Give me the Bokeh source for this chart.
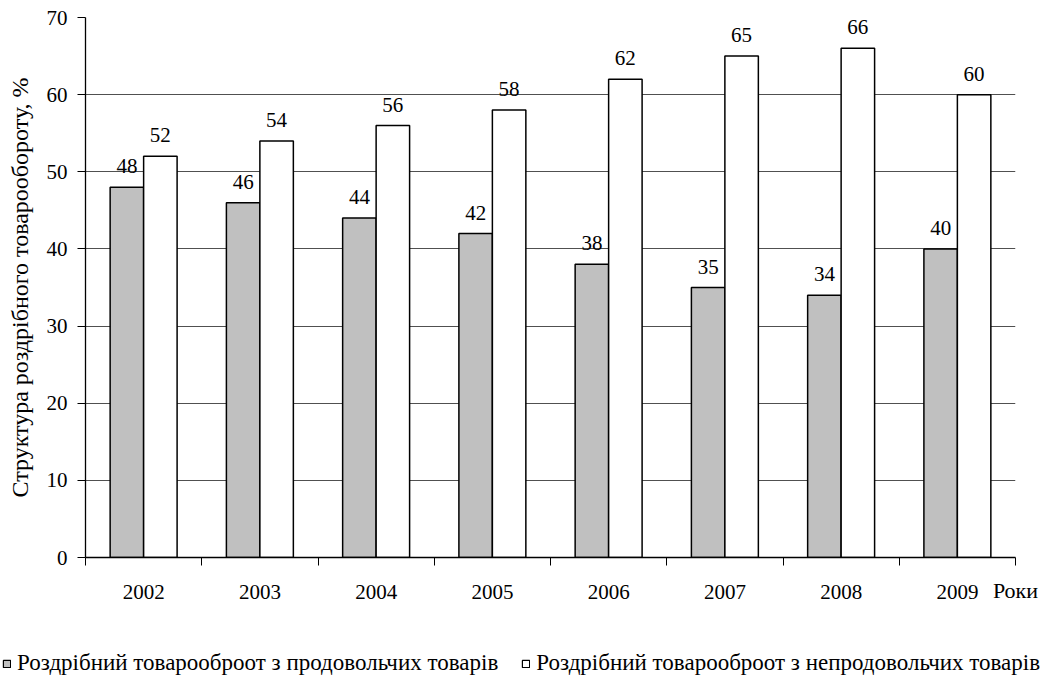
from bokeh.plotting import figure
from bokeh.models import (Range1d, LinearAxis, FixedTicker,
                          ColumnDataSource, Legend, LegendItem)
from bokeh.core.properties import value
from bokeh.embed import file_html
from bokeh.resources import INLINE

years = ["2002", "2003", "2004", "2005", "2006", "2007", "2008", "2009"]
food = [48, 46, 44, 42, 38, 35, 34, 40]
nonfood = [52, 54, 56, 58, 62, 65, 66, 60]
series_names = ["Роздрібний товарооброот з продовольчих товарів",
                "Роздрібний товарооброот з непродовольчих товарів"]
y_ticks = [0, 10, 20, 30, 40, 50, 60, 70]
y_title = "Структура роздрібного товарообороту, %"
x_title = "Роки"

FONT = "Liberation Serif"
FS = "21px"
GRAY = "#c0c0c0"

n = len(years)
centers = [i + 0.5 for i in range(n)]
edges = list(range(n + 1))

p = figure(x_range=Range1d(0, n), y_range=Range1d(0, 70),
           frame_width=930, frame_height=540,
           min_border_left=85, min_border_right=28, min_border_top=17, min_border_bottom=74,
           output_backend="svg", toolbar_location=None, x_axis_location=None)
p.outline_line_color = None
p.background_fill_color = "white"

# y axis
ya = p.yaxis[0]
ya.ticker = FixedTicker(ticks=y_ticks)
ya.axis_line_color = "black"
ya.axis_line_width = 1.3
ya.major_tick_in = 0
ya.major_tick_out = 8
ya.major_tick_line_color = "black"
ya.minor_tick_line_color = None
ya.major_label_text_font = FONT
ya.major_label_text_font_size = FS
ya.major_label_text_color = "black"
ya.major_label_standoff = 10
ya.axis_label = y_title
ya.axis_label_text_font = FONT
ya.axis_label_text_font_size = "24px"
ya.axis_label_text_font_style = "normal"
ya.axis_label_text_color = "black"
ya.axis_label_standoff = 11

p.xgrid.visible = False
p.ygrid.ticker = FixedTicker(ticks=y_ticks[1:])
p.ygrid.grid_line_color = "#505050"
p.ygrid.grid_line_width = 1

# x axis: tick marks at category boundaries (minor), year labels at category centres
x_axis = LinearAxis(ticker=FixedTicker(ticks=centers, minor_ticks=edges),
                    major_label_overrides={c: y for c, y in zip(centers, years)},
                    axis_line_color="black", axis_line_width=1.3,
                    major_tick_line_color=None, major_tick_in=0, major_tick_out=0,
                    minor_tick_line_color="black", minor_tick_in=0, minor_tick_out=8,
                    major_label_text_font=FONT, major_label_text_font_size=FS,
                    major_label_text_color="black", major_label_standoff=19,
                    axis_label=x_title, axis_label_align="end", axis_label_standoff=-24,
                    axis_label_text_font=FONT, axis_label_text_font_size="22px",
                    axis_label_text_font_style="normal", axis_label_text_color="black")
p.add_layout(x_axis, "below")

off = 0.144
bw = 0.288
src = ColumnDataSource(dict(x1=[c - off for c in centers], x2=[c + off for c in centers],
                            food=food, nonfood=nonfood,
                            food_lbl=[str(v) for v in food],
                            nonfood_lbl=[str(v) for v in nonfood]))

p.vbar(x="x1", top="food", width=bw, source=src,
       fill_color=GRAY, line_color="black", line_width=1.5)
p.vbar(x="x2", top="nonfood", width=bw, source=src,
       fill_color="white", line_color="black", line_width=1.5)

p.text(x="x1", y="food", text="food_lbl", source=src,
       text_align="center", text_baseline="alphabetic", y_offset=-21,
       text_font=value(FONT), text_font_size=FS, text_color="black")
p.text(x="x2", y="nonfood", text="nonfood_lbl", source=src,
       text_align="center", text_baseline="alphabetic", y_offset=-21,
       text_font=value(FONT), text_font_size=FS, text_color="black")

# legend strip below the chart (separate root, so its frame is not aligned to the chart)
lg = figure(width=1043, height=45, x_range=Range1d(0, n), y_range=Range1d(100, 101),
            min_border=0, output_backend="svg", toolbar_location=None,
            x_axis_location=None, y_axis_location=None)
lg.outline_line_color = None
lg.grid.visible = False
sw1 = lg.vbar(x="x1", top="food", width=bw, source=src,
              fill_color=GRAY, line_color="black", line_width=1.2)
sw2 = lg.vbar(x="x2", top="nonfood", width=bw, source=src,
              fill_color="white", line_color="black", line_width=1.2)
legend = Legend(items=[LegendItem(label=series_names[0], renderers=[sw1]),
                       LegendItem(label=series_names[1], renderers=[sw2])],
                orientation="horizontal", location=(2, 0),
                glyph_width=9, glyph_height=9, label_standoff=6, spacing=23,
                padding=0, margin=0, border_line_color=None, background_fill_alpha=0,
                label_text_font=FONT, label_text_font_size="23px", label_text_color="black",
                label_height=20)
lg.add_layout(legend, "center")

open("out.html", "w").write(file_html([p, lg], INLINE))
